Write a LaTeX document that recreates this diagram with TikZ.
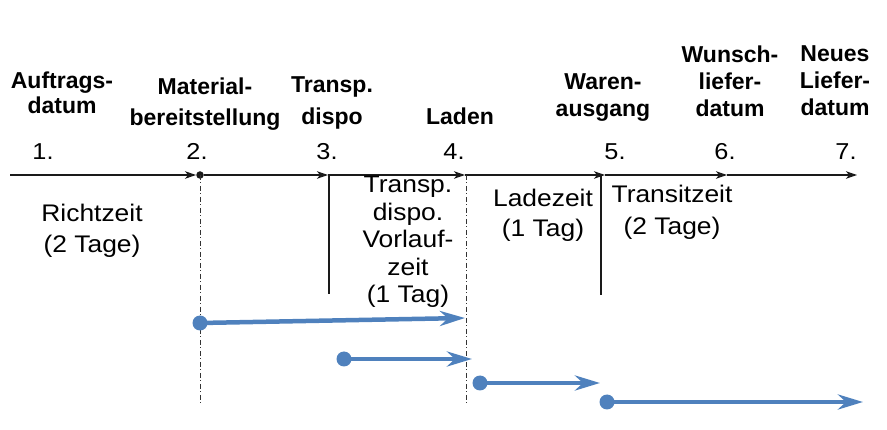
\documentclass[tikz,border=0pt]{standalone}
\usepackage{fontspec}
\setmainfont{Liberation Sans}
\newfontfamily\regfont[FakeStretch=1.1]{Liberation Sans}
\usetikzlibrary{arrows.meta}
\definecolor{arrblue}{HTML}{4F81BD}
\definecolor{axis}{HTML}{1A1A1A}
\begin{document}
\begin{tikzpicture}[x=1pt,y=-1pt,
  lbl/.style={font=\bfseries\fontsize{23}{27}\selectfont, align=center, anchor=base, inner sep=0},
  per/.style={font=\regfont\fontsize{24}{30}\selectfont, align=center, anchor=base, inner sep=0},
  num/.style={font=\regfont\fontsize{23}{26}\selectfont, anchor=base, inner sep=0},
  tl/.style={line width=1.3pt, draw=axis, -{Stealth[length=11pt,width=7.5pt,inset=3pt]}},
  tdot/.style={circle, fill=axis, minimum size=7.5pt, inner sep=0},
  vline/.style={line width=1.3pt, draw=axis},
  dashdot/.style={line width=1pt, draw=black!80, dash pattern=on 5pt off 2.5pt on 1pt off 2.5pt},
  bdot/.style={circle, fill=arrblue, minimum size=15pt, inner sep=0},
  barr/.style={line width=4.5pt, draw=arrblue, -{Stealth[length=25pt,width=15pt,inset=8pt]}}
]
\useasboundingbox (0,0) rectangle (887,430);

% milestone labels (anchor = baseline of last line)
\node[lbl] (auf) at (62,114) {Auftrags-\\[-2pt]datum};
\node[lbl] (mat) at (205,126) {Material-\\[4pt]bereitstellung};
\node[lbl] (tdis) at (332,125) {Transp.\\[5pt]dispo};
\node[lbl] (lad) at (460,125) {Laden};
\node[lbl] (wa) at (603,117) {Waren-\\ausgang};
\node[lbl] (wu) at (730,117) {Wunsch-\\liefer-\\datum};
\node[lbl] (ne) at (835,116) {Neues\\Liefer-\\datum};

% numbers
\node[num] (n1) at (43,160) {1.};
\node[num] (n2) at (197,160) {2.};
\node[num] (n3) at (327,160) {3.};
\node[num] (n4) at (454,160) {4.};
\node[num] (n5) at (615,160) {5.};
\node[num] (n6) at (725,160) {6.};
\node[num] (n7) at (846,160) {7.};

% timeline
\coordinate (t0) at (10,175);
\node[tdot] (t1) at (200,175) {};
\coordinate (t2) at (328,175);
\coordinate (t3) at (465,175);
\coordinate (t4) at (605,175);
\coordinate (t5) at (727,175);
\coordinate (t6) at (857,175);
\draw[tl] (t0) -- (t1);
\draw[tl] (t1) -- (t2);
\draw[tl] (t2) -- (t3);
\draw[tl] (t3) -- (t4);
\draw[tl] (t4) -- (t5);
\draw[tl] (t5) -- (t6);

% vertical separators
\coordinate (v3t) at (329,175);
\coordinate (v3b) at (329,294);
\coordinate (v5t) at (601,175);
\coordinate (v5b) at (601,295);
\draw[vline] (v3t) -- (v3b);
\draw[vline] (v5t) -- (v5b);
\coordinate (d2b) at (200,405);
\coordinate (d4t) at (466,175);
\coordinate (d4b) at (466,405);
\draw[dashdot] (t1.center) -- (d2b);
\draw[dashdot] (d4t) -- (d4b);

% period labels
\node[per] (rz) at (92,253) {Richtzeit\\[1pt](2 Tage)};
\node[per, font=\regfont\fontsize{24}{27.5}\selectfont] (tv) at (408,303) {Transp.\\dispo.\\Vorlauf-\\zeit\\(1 Tag)};
\node[per] (lz) at (543,237) {Ladezeit\\(1 Tag)};
\node[per] (tz) at (672,235) {Transitzeit\\[2pt](2 Tage)};

% blue arrows
\node[bdot] (b1) at (200,323) {};
\node[bdot] (b2) at (344,359) {};
\node[bdot] (b3) at (480,383) {};
\node[bdot] (b4) at (607,402) {};
\coordinate (e1) at (465,318);
\coordinate (e2) at (472,359);
\coordinate (e3) at (600,383);
\coordinate (e4) at (863,402);
\draw[barr] (b1.center) -- (e1);
\draw[barr] (b2.center) -- (e2);
\draw[barr] (b3.center) -- (e3);
\draw[barr] (b4.center) -- (e4);
\end{tikzpicture}
\end{document}
